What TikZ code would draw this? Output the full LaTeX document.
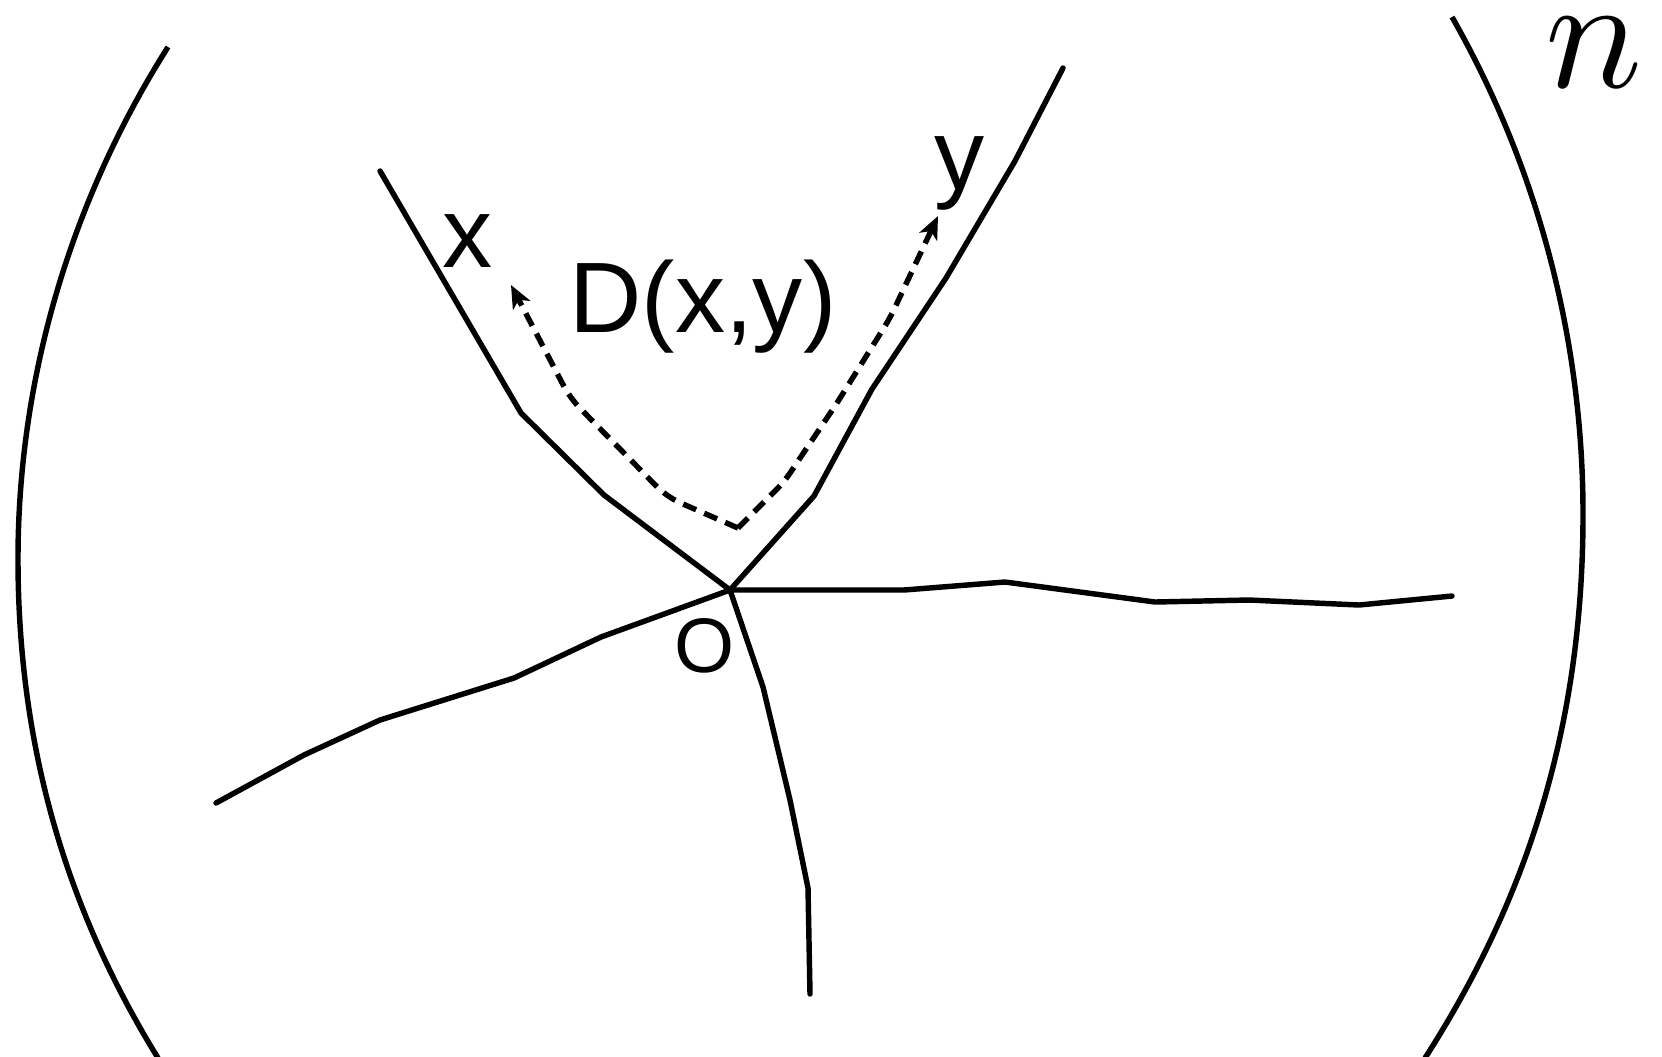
\documentclass[tikz,border=0pt]{standalone}
\usepackage{fontspec}
\newfontfamily\labfont{Liberation Sans}
\usetikzlibrary{arrows.meta}
\tikzset{
  wire/.style={line width=3.1pt, line join=round, line cap=round},
  paren/.style={line width=3.1pt},
  path/.style={line width=3.1pt, dash pattern=on 8pt off 5pt,
    -{Stealth[length=13pt,width=11pt,inset=3.5pt]}},
  lab/.style={inner sep=0pt, anchor=base, font=\labfont\fontsize{57}{60}\selectfont},
  olab/.style={inner sep=0pt, anchor=base, font=\labfont\fontsize{44}{48}\selectfont},
}
\begin{document}
\begin{tikzpicture}[x=0.02cm,y=-0.02cm]
\useasboundingbox (0,0) rectangle (1662,1056);
% parentheses
\draw[paren] (168,47) .. controls (71,200) and (18,378) .. (18,559)
  .. controls (18,740) and (63,904) .. (158,1058);
\draw[paren] (1452,17) .. controls (1538,168) and (1583,340) .. (1583,514)
  .. controls (1583,715) and (1533,890) .. (1425,1058);
\node[inner sep=0pt, scale=9.2] (npow) at (1594,53) {$n$};
% center
\coordinate (O) at (730,590);
\coordinate (xend) at (380,171);
\coordinate (yend) at (1063,68);
\coordinate (rend) at (1452,596);
\coordinate (lend) at (216,803);
\coordinate (dend) at (810,994);
% branches
\draw[wire] (O) -- (604,495) -- (521,413) -- (xend);
\draw[wire] (O) -- (814,496) -- (872,389) -- (946,278) -- (1015,161) -- (yend);
\draw[wire] (O) -- (904,590) -- (1005,582) -- (1155,602) -- (1249,600) -- (1359,605) -- (rend);
\draw[wire] (O) -- (601,637) -- (514,678) -- (380,720) -- (304,755) -- (lend);
\draw[wire] (O) -- (763,687) -- (790,800) -- (808,888) -- (dend);
% labels
\node[lab] (xl) at (468,267) {x};
\node[lab] (yl) at (960,189) {y};
\node[lab, anchor=base west] (dl) at (569,332) {D(x,y)};
\node[olab] (ol) at (705,672) {O};
% dashed geodesic
\coordinate (bot) at (738,528);
\coordinate (xtip) at (511,285);
\coordinate (ytip) at (938,216);
\draw[path, rounded corners=8pt] (bot) -- (667,497) -- (570,398) -- (xtip);
\draw[path, rounded corners=6pt] (bot) -- (784,482) -- (837,403) -- (890,318) -- (ytip);
\end{tikzpicture}
\end{document}
